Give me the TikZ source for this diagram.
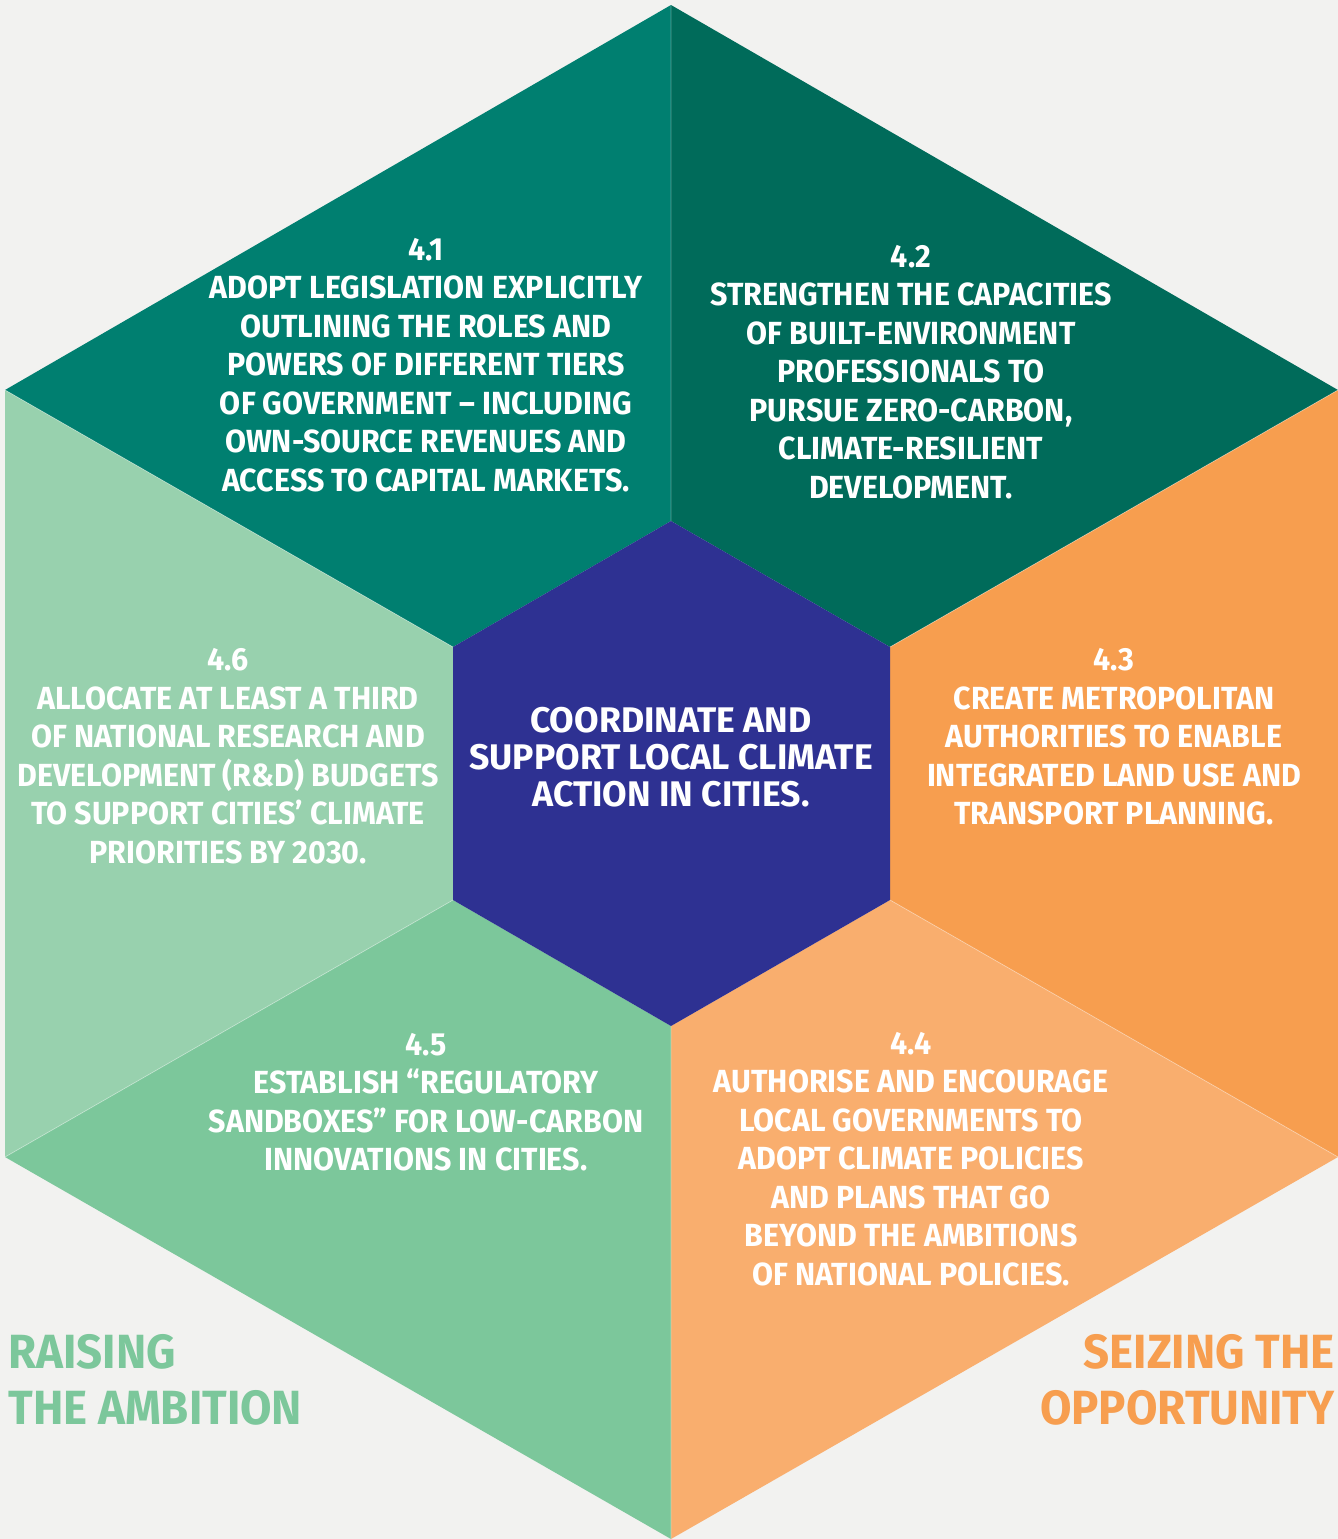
\documentclass[tikz,border=0pt]{standalone}
\usepackage{fontspec}
\newfontfamily\dinfont[FakeStretch=0.95]{Fira Sans}
\newfontfamily\corefont{Fira Sans}
\definecolor{bgc}{HTML}{F2F2F0}
\definecolor{cA}{HTML}{007F70}
\definecolor{cB}{HTML}{006B5A}
\definecolor{cC}{HTML}{F79E4F}
\definecolor{cD}{HTML}{F9AE6E}
\definecolor{cE}{HTML}{7CC79B}
\definecolor{cF}{HTML}{98D1AE}
\definecolor{cN}{HTML}{2E3192}
\tikzset{
  body/.style={text=white, align=center, inner sep=0pt,
    font=\dinfont\bfseries\fontsize{16}{19.25}\selectfont},
  core/.style={text=white, align=center, inner sep=0pt,
    font=\corefont\bfseries\fontsize{17.8}{18.5}\selectfont},
  big/.style={inner sep=0pt, font=\dinfont\bfseries\fontsize{24}{28}\selectfont},
  sep/.style={white, opacity=0.35, line width=0.4pt}
}
\begin{document}
\begin{tikzpicture}[x=0.5pt,y=-0.5pt]
\fill[bgc] (0,0) rectangle (1338,1539);
\useasboundingbox (0,0) rectangle (1338,1539);
% outer vertices
\coordinate (T) at (671,5);
\coordinate (UR) at (1338,390);
\coordinate (LR) at (1338,1157);
\coordinate (B) at (671,1539);
\coordinate (LL) at (5,1157);
\coordinate (UL) at (5,390);
% inner vertices
\coordinate (t) at (671,521);
\coordinate (ur) at (890,647);
\coordinate (lr) at (890,900);
\coordinate (b) at (671,1026);
\coordinate (ll) at (453,900);
\coordinate (ul) at (453,647);
% sectors
\fill[cA] (T) -- (UL) -- (ul) -- (t) -- cycle;
\fill[cB] (T) -- (UR) -- (ur) -- (t) -- cycle;
\fill[cC] (UR) -- (LR) -- (lr) -- (ur) -- cycle;
\fill[cD] (LR) -- (B) -- (b) -- (lr) -- cycle;
\fill[cE] (B) -- (LL) -- (ll) -- (b) -- cycle;
\fill[cF] (LL) -- (UL) -- (ul) -- (ll) -- cycle;
\draw[sep] (T) -- (t) (UR) -- (ur) (LR) -- (lr) (B) -- (b) (LL) -- (ll) (UL) -- (ul);
\fill[cN] (t) -- (ur) -- (lr) -- (b) -- (ll) -- (ul) -- cycle;
% texts
\node[body] (s1) at (426,365) {4.1\\ADOPT LEGISLATION EXPLICITLY\\OUTLINING THE ROLES AND\\POWERS OF DIFFERENT TIERS\\OF GOVERNMENT – INCLUDING\\OWN-SOURCE REVENUES AND\\ACCESS TO CAPITAL MARKETS.};
\node[body] (s2) at (911,372) {4.2\\STRENGTHEN THE CAPACITIES\\OF BUILT-ENVIRONMENT\\PROFESSIONALS TO\\PURSUE ZERO-CARBON,\\CLIMATE-RESILIENT\\DEVELOPMENT.};
\node[body] (s3) at (1114,737) {4.3\\CREATE METROPOLITAN\\AUTHORITIES TO ENABLE\\INTEGRATED LAND USE AND\\TRANSPORT PLANNING.};
\node[body] (s4) at (911,1159) {4.4\\AUTHORISE AND ENCOURAGE\\LOCAL GOVERNMENTS TO\\ADOPT CLIMATE POLICIES\\AND PLANS THAT GO\\BEYOND THE AMBITIONS\\OF NATIONAL POLICIES.};
\node[body] (s5) at (426,1102) {4.5\\ESTABLISH “REGULATORY\\SANDBOXES” FOR LOW-CARBON\\INNOVATIONS IN CITIES.};
\node[body] (s6) at (228,756) {4.6\\ALLOCATE AT LEAST A THIRD\\OF NATIONAL RESEARCH AND\\DEVELOPMENT (R\&D) BUDGETS\\TO SUPPORT CITIES’ CLIMATE\\PRIORITIES BY 2030.};
\node[core] (c) at (671,757) {COORDINATE AND\\SUPPORT LOCAL CLIMATE\\ACTION IN CITIES.};
% corner labels
\node[big, text=cE, anchor=west] (r1) at (8,1352) {RAISING};
\node[big, text=cE, anchor=west] (r2) at (8,1408) {THE AMBITION};
\node[big, text=cC, anchor=east] (o1) at (1335,1352) {SEIZING THE};
\node[big, text=cC, anchor=east] (o2) at (1335,1408) {OPPORTUNITY};
\end{tikzpicture}
\end{document}
